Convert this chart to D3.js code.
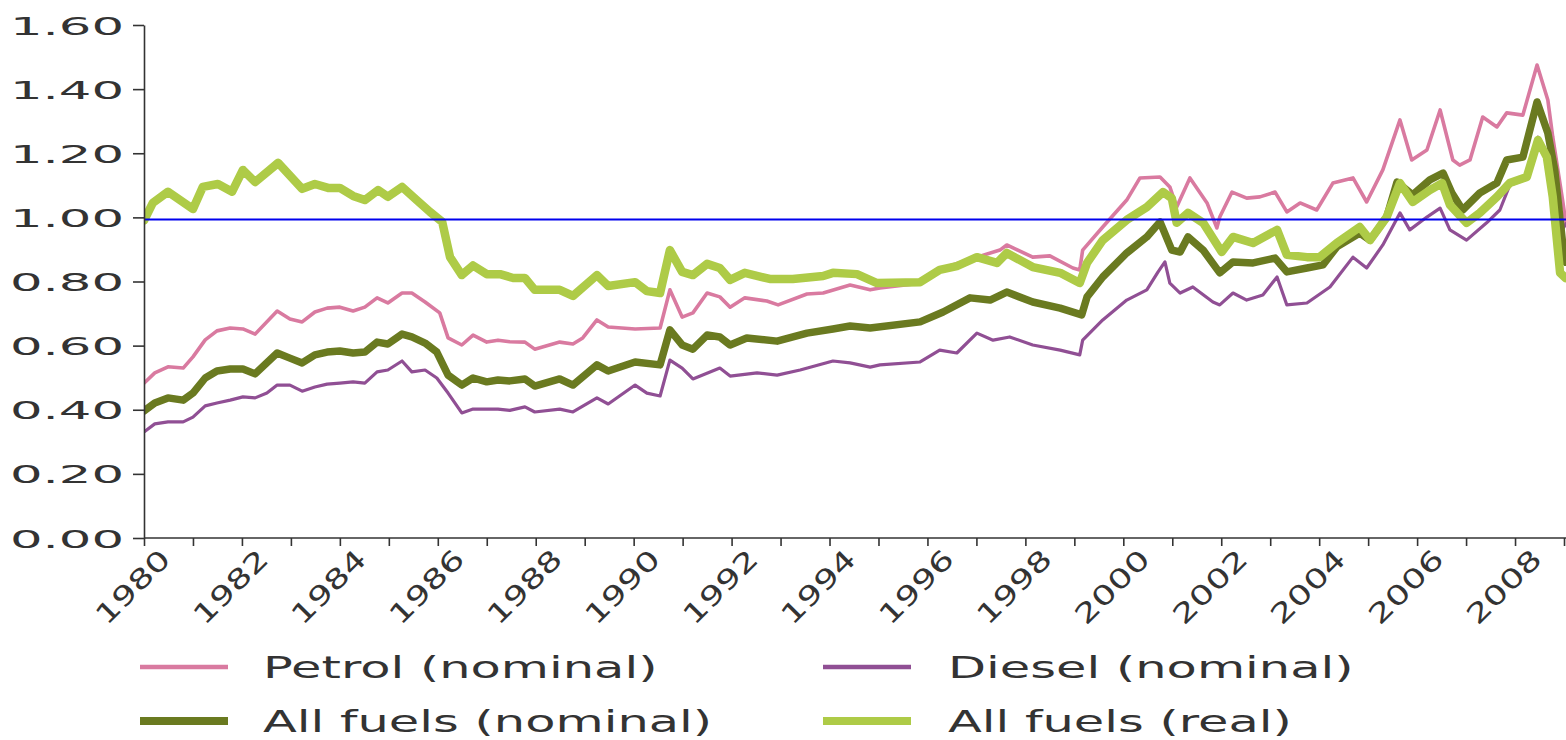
<!DOCTYPE html>
<html>
<head>
<meta charset="utf-8">
<script src="https://cdn.jsdelivr.net/npm/d3@7"></script>
<style>
  html, body { margin: 0; padding: 0; background: #ffffff; }
  svg { display: block; }
</style>
</head>
<body>
<svg id="chart" width="1566" height="740"></svg>
<script>
// ---------------- DATA ----------------
const yTickValues = [0, 0.2, 0.4, 0.6, 0.8, 1.0, 1.2, 1.4, 1.6];
const xTickYears = d3.range(1980, 2010);
const referenceLevel = 0.993;

const seriesNames = ["Petrol (nominal)", "Diesel (nominal)", "All fuels (nominal)", "All fuels (real)"];

const petrolYears = [1980.00,1980.22,1980.49,1980.80,1981.00,1981.25,1981.49,1981.76,1982.02,1982.27,1982.72,1982.98,1983.23,1983.49,1983.74,1984.00,1984.27,1984.51,1984.76,1984.98,1985.27,1985.47,1985.74,1986.04,1986.21,1986.49,1986.72,1987.00,1987.23,1987.47,1987.78,1987.98,1988.49,1988.76,1988.96,1989.25,1989.48,1990.03,1990.54,1990.74,1990.99,1991.21,1991.50,1991.76,1991.97,1992.27,1992.72,1992.95,1993.54,1993.87,1994.42,1994.83,1995.03,1995.85,1996.32,1997.01,1997.48,1997.62,1998.15,1998.50,1998.97,1999.11,1999.17,1999.58,2000.07,2000.34,2000.75,2000.95,2001.09,2001.36,2001.71,2001.91,2001.97,2002.22,2002.52,2002.79,2003.10,2003.34,2003.61,2003.95,2004.28,2004.69,2004.97,2005.30,2005.65,2005.89,2006.20,2006.47,2006.73,2006.87,2007.08,2007.34,2007.63,2007.83,2008.16,2008.45,2008.67,2008.77,2008.98,2009.04];
const petrolValues = [0.483,0.515,0.534,0.530,0.565,0.618,0.646,0.655,0.652,0.636,0.708,0.683,0.674,0.705,0.717,0.720,0.708,0.720,0.749,0.733,0.764,0.764,0.736,0.702,0.624,0.602,0.633,0.611,0.617,0.612,0.611,0.589,0.611,0.605,0.624,0.680,0.658,0.652,0.655,0.774,0.689,0.702,0.764,0.752,0.720,0.749,0.739,0.727,0.761,0.764,0.789,0.774,0.780,0.795,0.842,0.876,0.898,0.914,0.876,0.880,0.842,0.836,0.898,0.970,1.054,1.123,1.126,1.095,1.032,1.123,1.045,0.967,1.001,1.079,1.060,1.064,1.079,1.017,1.045,1.023,1.107,1.123,1.048,1.148,1.304,1.179,1.210,1.335,1.179,1.163,1.179,1.313,1.282,1.326,1.319,1.475,1.366,1.251,1.045,0.980];

const dieselYears = [1980.00,1980.22,1980.49,1980.80,1981.00,1981.25,1981.49,1981.76,1982.02,1982.27,1982.51,1982.72,1982.98,1983.23,1983.49,1983.74,1984.00,1984.27,1984.51,1984.76,1984.98,1985.27,1985.47,1985.74,1985.98,1986.21,1986.49,1986.72,1987.00,1987.23,1987.47,1987.78,1987.98,1988.49,1988.76,1989.25,1989.48,1990.03,1990.27,1990.54,1990.74,1990.99,1991.21,1991.76,1991.97,1992.52,1992.93,1993.40,1994.07,1994.42,1994.83,1995.03,1995.85,1996.25,1996.60,1997.01,1997.34,1997.68,1998.15,1998.71,1999.11,1999.17,1999.58,2000.07,2000.48,2000.71,2000.85,2000.95,2001.16,2001.42,2001.83,2001.97,2002.24,2002.52,2002.85,2003.14,2003.34,2003.75,2004.22,2004.69,2004.97,2005.30,2005.65,2005.85,2006.20,2006.47,2006.67,2007.01,2007.42,2007.69,2007.89,2008.24,2008.47,2008.65,2008.77,2008.92,2009.04];
const dieselValues = [0.331,0.356,0.362,0.362,0.377,0.412,0.421,0.430,0.440,0.437,0.452,0.477,0.477,0.458,0.471,0.480,0.483,0.487,0.483,0.518,0.524,0.552,0.518,0.524,0.499,0.452,0.390,0.402,0.402,0.402,0.398,0.409,0.393,0.402,0.393,0.437,0.418,0.477,0.452,0.443,0.555,0.530,0.496,0.530,0.505,0.515,0.508,0.524,0.552,0.546,0.533,0.540,0.549,0.586,0.577,0.639,0.617,0.627,0.602,0.586,0.571,0.617,0.680,0.742,0.774,0.830,0.861,0.795,0.764,0.783,0.736,0.727,0.764,0.742,0.758,0.814,0.727,0.733,0.783,0.876,0.842,0.914,1.014,0.961,1.001,1.029,0.961,0.929,0.983,1.023,1.100,1.120,1.250,1.190,1.070,0.950,0.980];

const allNomYears = [1980.00,1980.22,1980.49,1980.80,1981.00,1981.25,1981.49,1981.76,1982.02,1982.27,1982.72,1982.98,1983.23,1983.49,1983.74,1984.00,1984.27,1984.51,1984.76,1984.98,1985.27,1985.47,1985.74,1985.98,1986.21,1986.49,1986.72,1987.00,1987.23,1987.47,1987.78,1987.98,1988.49,1988.76,1989.25,1989.48,1990.03,1990.54,1990.74,1990.99,1991.21,1991.50,1991.76,1991.97,1992.31,1992.93,1993.54,1994.07,1994.42,1994.83,1995.85,1996.32,1996.87,1997.28,1997.62,1998.15,1998.71,1999.15,1999.26,1999.58,2000.07,2000.48,2000.75,2000.99,2001.16,2001.32,2001.63,2001.97,2002.24,2002.65,2003.10,2003.34,2003.75,2004.08,2004.36,2004.83,2005.04,2005.38,2005.59,2005.91,2006.26,2006.53,2006.71,2006.93,2007.28,2007.63,2007.83,2008.16,2008.45,2008.67,2008.81,2008.98,2009.04];
const allNomValues = [0.396,0.421,0.437,0.430,0.452,0.499,0.521,0.527,0.527,0.512,0.577,0.561,0.546,0.571,0.580,0.583,0.577,0.580,0.611,0.605,0.636,0.627,0.608,0.580,0.508,0.477,0.499,0.487,0.493,0.490,0.496,0.474,0.496,0.477,0.540,0.521,0.549,0.540,0.649,0.602,0.589,0.633,0.627,0.602,0.624,0.614,0.639,0.652,0.661,0.655,0.674,0.705,0.749,0.742,0.767,0.736,0.717,0.696,0.752,0.814,0.889,0.939,0.986,0.898,0.892,0.939,0.898,0.827,0.861,0.858,0.873,0.830,0.842,0.852,0.908,0.951,0.929,1.001,1.110,1.070,1.117,1.138,1.076,1.023,1.076,1.107,1.179,1.188,1.360,1.263,1.148,0.908,0.860];

const realYears = [1980.00,1980.18,1980.49,1981.00,1981.20,1981.51,1981.80,1982.02,1982.27,1982.74,1983.23,1983.49,1983.76,1984.00,1984.27,1984.51,1984.78,1984.98,1985.27,1985.57,1985.84,1986.09,1986.25,1986.49,1986.72,1987.00,1987.27,1987.54,1987.78,1987.98,1988.49,1988.76,1989.25,1989.48,1990.03,1990.27,1990.54,1990.74,1990.99,1991.21,1991.50,1991.76,1991.97,1992.27,1992.78,1993.25,1993.87,1994.07,1994.56,1994.97,1995.85,1996.25,1996.60,1997.01,1997.42,1997.62,1998.15,1998.71,1999.11,1999.26,1999.58,2000.07,2000.48,2000.81,2000.99,2001.09,2001.32,2001.63,2002.01,2002.24,2002.65,2003.14,2003.34,2003.75,2004.01,2004.36,2004.83,2005.04,2005.38,2005.65,2005.91,2006.26,2006.51,2006.67,2007.01,2007.28,2007.63,2007.89,2008.24,2008.47,2008.65,2008.77,2008.92,2009.04];
const realValues = [0.990,1.045,1.080,1.026,1.095,1.104,1.080,1.148,1.110,1.170,1.089,1.104,1.092,1.092,1.067,1.054,1.085,1.064,1.095,1.054,1.017,0.986,0.876,0.820,0.850,0.823,0.823,0.811,0.811,0.774,0.774,0.755,0.820,0.786,0.798,0.770,0.764,0.898,0.830,0.820,0.855,0.842,0.805,0.827,0.808,0.808,0.817,0.827,0.823,0.795,0.798,0.836,0.848,0.876,0.858,0.889,0.845,0.827,0.795,0.858,0.929,0.992,1.032,1.079,1.060,0.983,1.014,0.983,0.892,0.939,0.920,0.961,0.883,0.876,0.876,0.920,0.970,0.929,1.001,1.107,1.048,1.085,1.107,1.039,0.983,1.014,1.064,1.107,1.126,1.241,1.188,1.064,0.827,0.810];

// ---------------- STYLE ----------------
const colors = ["#d97aa0", "#904f94", "#6a7a20", "#aecb47"];
const widths = [3.6, 3.2, 7.5, 8.5];
const legendWidths = [4.5, 4.5, 8, 8];
const FONT = "'DejaVu Sans', Verdana, sans-serif";
const TEXT_COLOR = "#333333";

const svg = d3.select("#chart");
const W = 1566, H = 740;
const m = { left: 144, right: 1564, top: 25, bottom: 538 };

const x = d3.scaleLinear().domain([1980, 2009]).range([m.left, m.right]);
const y = d3.scaleLinear().domain([0, 1.6]).range([m.bottom, m.top]);

svg.append("defs").append("clipPath").attr("id", "clip")
  .append("rect").attr("x", m.left).attr("y", 0).attr("width", W - m.left).attr("height", m.bottom);

// ---------------- LINES ----------------
const series = [
  { years: petrolYears, values: petrolValues },
  { years: dieselYears, values: dieselValues },
  { years: allNomYears, values: allNomValues },
  { years: realYears, values: realValues }
];

const line = d3.line().x(d => x(d[0])).y(d => y(d[1]));
const gLines = svg.append("g").attr("clip-path", "url(#clip)");
series.forEach((s, i) => {
  const pts = s.years.map((yr, k) => [yr, s.values[k]]);
  gLines.append("path")
    .datum(pts)
    .attr("d", line)
    .attr("fill", "none")
    .attr("stroke", colors[i])
    .attr("stroke-width", widths[i])
    .attr("stroke-linejoin", "round")
    .attr("stroke-linecap", "round");
});

// reference line
svg.append("line")
  .attr("x1", m.left).attr("x2", W)
  .attr("y1", y(referenceLevel)).attr("y2", y(referenceLevel))
  .attr("stroke", "#0000ee").attr("stroke-width", 2);

// ---------------- AXES ----------------
const yAxis = svg.append("g")
  .attr("transform", `translate(${m.left},0)`)
  .call(d3.axisLeft(y).tickValues(yTickValues).tickSize(11).tickSizeOuter(0).tickFormat(d3.format(".2f")));
yAxis.select(".domain").attr("stroke", "#333").attr("stroke-width", 1.6);
yAxis.selectAll(".tick line").attr("stroke", "#333").attr("stroke-width", 1.6);
yAxis.selectAll(".tick text")
  .attr("x", null).attr("dy", "0.36em")
  .attr("text-anchor", "end")
  .attr("transform", "translate(-20,0) scale(2.05,1)")
  .style("font-family", FONT).style("font-size", "25px").attr("fill", TEXT_COLOR);

const xAxis = svg.append("g")
  .attr("transform", `translate(0,${m.bottom})`)
  .call(d3.axisBottom(x).tickValues(xTickYears).tickSize(8).tickSizeOuter(0)
        .tickFormat(d => (d % 2 === 0 ? String(d) : "")));
xAxis.select(".domain").attr("d", `M${m.left},0H${W}`).attr("stroke", "#333").attr("stroke-width", 1.6);
xAxis.selectAll(".tick line").attr("stroke", "#333").attr("stroke-width", 1.6);
xAxis.selectAll(".tick text")
  .attr("x", 0).attr("y", 0).attr("dy", "0.72em")
  .attr("text-anchor", "end")
  .attr("transform", "translate(14,9) rotate(-45) scale(1.35,1)")
  .style("font-family", FONT).style("font-size", "27px").attr("fill", TEXT_COLOR);

// ---------------- LEGEND ----------------
const legendPos = [
  { sx: 140, tx: 263, cy: 667 },
  { sx: 823, tx: 948, cy: 667 },
  { sx: 140, tx: 263, cy: 721 },
  { sx: 823, tx: 948, cy: 721 }
];
const legend = svg.append("g");
seriesNames.forEach((name, i) => {
  const p = legendPos[i];
  legend.append("line")
    .attr("x1", p.sx).attr("x2", p.sx + 88)
    .attr("y1", p.cy).attr("y2", p.cy)
    .attr("stroke", colors[i]).attr("stroke-width", legendWidths[i]);
  legend.append("text")
    .attr("transform", `translate(${p.tx},${p.cy}) scale(1.65,1)`)
    .attr("dy", "0.36em")
    .style("font-family", FONT).style("font-size", "30px")
    .attr("fill", TEXT_COLOR)
    .text(name);
});
</script>
</body>
</html>
